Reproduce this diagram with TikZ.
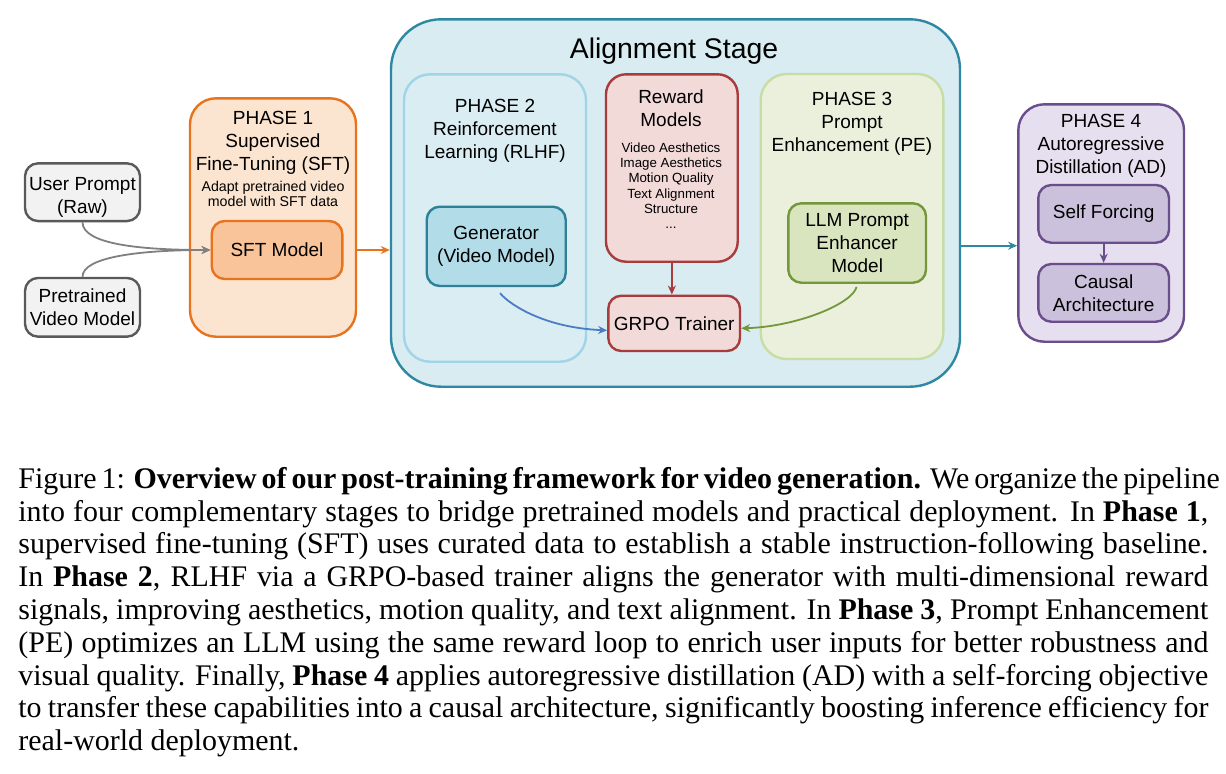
\documentclass[tikz,border=0pt]{standalone}
\usepackage{fontspec}
\setmainfont{Liberation Serif}
\newfontfamily\arialf{Liberation Sans}
\usetikzlibrary{arrows.meta}
\definecolor{inFill}{HTML}{F2F2F2}
\definecolor{inDraw}{HTML}{595959}
\definecolor{pAFill}{HTML}{FCE5D0}
\definecolor{orng}{HTML}{E8731C}
\definecolor{sftFill}{HTML}{F9C49A}
\definecolor{alFill}{HTML}{D8ECF2}
\definecolor{tealc}{HTML}{2F88A1}
\definecolor{pBDraw}{HTML}{A0D4E6}
\definecolor{pBFill}{HTML}{DAEDF3}
\definecolor{genFill}{HTML}{B2DCE8}
\definecolor{genDraw}{HTML}{2E8097}
\definecolor{rmFill}{HTML}{F2DAD9}
\definecolor{redc}{HTML}{A83B3B}
\definecolor{pCFill}{HTML}{EBF0DD}
\definecolor{pCDraw}{HTML}{C7DDA6}
\definecolor{llmFill}{HTML}{D8E5BE}
\definecolor{grn}{HTML}{76963A}
\definecolor{pDFill}{HTML}{E6DFEF}
\definecolor{purp}{HTML}{6A4D8B}
\definecolor{sfFill}{HTML}{CCC1DC}
\definecolor{bluec}{HTML}{4A7DC6}
\definecolor{grayc}{HTML}{808080}
\begin{document}
\begin{tikzpicture}[x=0.5pt,y=-0.5pt,
  mainfont/.style={font=\arialf\fontsize{9.5}{11.5}\selectfont},
  box/.style={draw, rounded corners=6.5pt, line width=1.2pt, inner sep=0pt, align=center, mainfont},
  phasebox/.style={draw, rounded corners=13pt, line width=1.2pt, inner sep=0pt},
  ttl/.style={inner sep=0pt, align=center, anchor=north, mainfont},
  arr/.style={line width=0.9pt, -{Stealth[length=4.5pt,width=4pt]}}]
\useasboundingbox (0,0) rectangle (1226,773);

% inputs
\node[box, fill=inFill, draw=inDraw, minimum width=57.5pt, minimum height=28.85pt] (up) at (82.5,192.2) {\rule{0pt}{11.3pt}User Prompt\\(Raw)};
\node[box, fill=inFill, draw=inDraw, minimum width=57.5pt, minimum height=29.35pt] (pv) at (82.5,307.3) {Pretrained\\Video Model};

% phase 1
\node[phasebox, fill=pAFill, draw=orng, minimum width=83pt, minimum height=119.2pt] (p1) at (273,217.5) {};
\node[ttl] (t1) at (273,110.7) {PHASE 1\\Supervised\\Fine-Tuning (SFT)};
\node[inner sep=0pt, align=center, anchor=north, font=\arialf\fontsize{7.1}{7.6}\selectfont] (t1b) at (273,180.8) {Adapt pretrained video\\model with SFT data};
\node[box, fill=sftFill, draw=orng, minimum width=65.3pt, minimum height=29pt] (sft) at (277,250) {SFT Model};

% alignment stage
\node[draw=tealc, fill=alFill, rounded corners=25pt, line width=1.2pt, inner sep=0pt, minimum width=284.5pt, minimum height=183.7pt] (al) at (675.5,203) {};
\node[inner sep=0pt, anchor=base, font=\arialf\fontsize{14.2}{16}\selectfont] (alt) at (674,58.3) {Alignment Stage};

% phase 2
\node[phasebox, fill=pBFill, draw=pBDraw, minimum width=91pt, minimum height=143.7pt] (p2) at (495,218) {};
\node[ttl] (t2) at (495,99.3) {PHASE 2\\Reinforcement\\Learning (RLHF)};
\node[box, fill=genFill, draw=genDraw, minimum width=69.5pt, minimum height=39.65pt] (gen) at (496.2,246.35) {Generator\\(Video Model)};

% reward models
\node[box, fill=rmFill, draw=redc, rounded corners=10pt, minimum width=65.85pt, minimum height=93.7pt] (rm) at (671.85,168) {};
\node[ttl] (rmt) at (671,89.3) {Reward\\Models};
\node[inner sep=0pt, align=center, anchor=north, font=\arialf\fontsize{6.65}{7.65}\selectfont] (rml) at (671,142.3) {Video Aesthetics\\Image Aesthetics\\Motion Quality\\Text Alignment\\Structure\\...};
\node[box, fill=rmFill, draw=redc, minimum width=65.85pt, minimum height=27.65pt] (gr) at (674.15,323.35) {GRPO Trainer};

% phase 3
\node[phasebox, fill=pCFill, draw=pCDraw, minimum width=91.3pt, minimum height=142.5pt] (p3) at (852,216.5) {};
\node[ttl] (t3) at (852,91.7) {PHASE 3\\Prompt\\Enhancement (PE)};
\node[box, fill=llmFill, draw=grn, minimum width=68.85pt, minimum height=39.7pt] (llm) at (857.15,243) {LLM Prompt\\Enhancer\\Model};

% phase 4
\node[phasebox, fill=pDFill, draw=purp, minimum width=82.85pt, minimum height=118.7pt] (p4) at (1101.15,223) {};
\node[ttl] (t4) at (1101,114.3) {PHASE 4\\Autoregressive\\Distillation (AD)};
\node[box, fill=sfFill, draw=purp, minimum width=65.35pt, minimum height=28.85pt] (sf) at (1103.65,213.85) {Self Forcing};
\node[box, fill=sfFill, draw=purp, minimum width=65.35pt, minimum height=28.85pt] (ca) at (1103.65,292.85) {Causal\\Architecture};

% connectors
\draw[arr, grayc] (up.south) .. controls +(0,22) and +(-70,0) .. (sft.west);
\draw[arr, grayc] (pv.north) .. controls +(0,-20) and +(-70,0) .. (sft.west);
\draw[arr, orng] (sft.east -| p1.east) -- (sft.east -| al.west);
\draw[arr, bluec, shorten <=3.5pt] (gen.south) .. controls +(8,12) and +(-70,-3) .. ([yshift=-3.5pt]gr.west);
\draw[arr, redc] (rm.south) -- (rm.south |- gr.north);
\draw[arr, grn, shorten <=1.5pt] (llm.south) .. controls +(-4,19) and +(58,-2) .. ([yshift=-2.5pt]gr.east);
\coordinate (ty) at (990,245.7);
\draw[arr, tealc] (ty -| al.east) -- (ty -| p4.west);
\draw[arr, purp] (sf.south) -- (ca.north);

% caption
\node[anchor=base west, inner sep=0pt] (cap) at (18,488.3) {\parbox[t]{595pt}{\fontsize{14.97}{16.4}\selectfont
\hbox to \linewidth{Figure 1: \textbf{Overview of our post-training framework for video generation.} We organize the pipeline}
\hbox to \linewidth{into four complementary stages to bridge pretrained models and practical deployment. In \textbf{Phase 1},}
\hbox to \linewidth{supervised fine-tuning (SFT) uses curated data to establish a stable instruction-following baseline.}
\hbox to \linewidth{In \textbf{Phase 2}, RLHF via a GRPO-based trainer aligns the generator with multi-dimensional reward}
\hbox to \linewidth{signals, improving aesthetics, motion quality, and text alignment. In \textbf{Phase 3}, Prompt Enhancement}
\hbox to \linewidth{(PE) optimizes an LLM using the same reward loop to enrich user inputs for better robustness and}
\hbox to \linewidth{visual quality. Finally, \textbf{Phase 4} applies autoregressive distillation (AD) with a self-forcing objective}
\hbox to \linewidth{to transfer these capabilities into a causal architecture, significantly boosting inference efficiency for}
\hbox{real-world deployment.}}};
\end{tikzpicture}
\end{document}
